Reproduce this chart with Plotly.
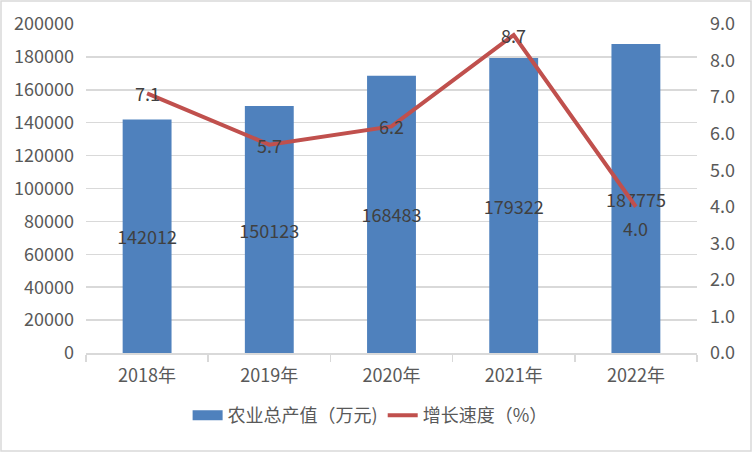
import plotly.graph_objects as go

years = ["2018年", "2019年", "2020年", "2021年", "2022年"]
output_value = [142012, 150123, 168483, 179322, 187775]
growth_rate = [7.1, 5.7, 6.2, 8.7, 4.0]
growth_label_shift = [0, 0, 0, 0, -21]

bar_name = "农业总产值（万元)"
line_name = "增长速度（%）"

FONT = "Noto Sans CJK SC, Liberation Sans, sans-serif"
TICK_COLOR = "#595959"
LABEL_COLOR = "#404040"
GRID = "#d9d9d9"
BAR_COLOR = "#4f81bd"
LINE_COLOR = "#c0504d"
FS = 18

fig = go.Figure()
fig.add_trace(go.Bar(
    x=years, y=output_value, name=bar_name, showlegend=False,
    marker=dict(color=BAR_COLOR, line=dict(width=0)),
    text=[str(v) for v in output_value],
    textposition="inside", insidetextanchor="middle",
    textangle=0, constraintext="none",
    textfont=dict(color=LABEL_COLOR, size=FS, family=FONT),
    yaxis="y", hoverinfo="skip",
))
# legend entry for the bars (wide swatch)
fig.add_trace(go.Scatter(
    x=[None], y=[None], name=bar_name, mode="lines",
    line=dict(color=BAR_COLOR, width=12), yaxis="y",
))
fig.add_trace(go.Scatter(
    x=years, y=growth_rate, name=line_name, mode="lines",
    line=dict(color=LINE_COLOR, width=4),
    yaxis="y2", hoverinfo="skip",
))

for yr, g, s in zip(years, growth_rate, growth_label_shift):
    fig.add_annotation(
        x=yr, y=g, yref="y2", xref="x", text=f"{g:.1f}", showarrow=False,
        yshift=s, font=dict(color=LABEL_COLOR, size=FS, family=FONT),
    )

W, H = 752, 452
L, R, T, B = 86, 55, 24, 99
pw, ph = W - L - R, H - T - B
fig.add_shape(
    type="rect", xref="paper", yref="paper",
    x0=(1 - L) / pw, x1=(W - 1 - L) / pw,
    y0=-(H - 1 - T - ph) / ph, y1=(ph + T - 1) / ph,
    line=dict(color=GRID, width=1.5), fillcolor="rgba(0,0,0,0)", layer="below",
)

fig.update_layout(
    width=W, height=H,
    margin=dict(l=L, r=R, t=T, b=B, autoexpand=False),
    paper_bgcolor="white", plot_bgcolor="white",
    font=dict(family=FONT, size=FS, color=TICK_COLOR),
    bargap=0.6,
    showlegend=True,
    hovermode=False,
    legend=dict(orientation="h", x=0.465, y=-0.19, xanchor="center", yanchor="middle",
                font=dict(size=FS, color=TICK_COLOR),
                bgcolor="rgba(0,0,0,0)", tracegroupgap=0),
    xaxis=dict(
        type="category", showgrid=False, showline=True, linecolor=GRID, linewidth=1.5,
        ticks="outside", tickson="boundaries", ticklen=7, tickcolor=GRID, tickwidth=1.5,
        tickfont=dict(size=FS, color=TICK_COLOR), zeroline=False, automargin=False,
        ticklabelstandoff=6,
    ),
    yaxis=dict(
        range=[0, 200000], dtick=20000, showgrid=True, gridcolor=GRID, gridwidth=1.5,
        zeroline=False, showline=False, ticks="", tickformat="d", automargin=False,
        tickfont=dict(size=FS, color=TICK_COLOR), ticklabelstandoff=11,
    ),
    yaxis2=dict(
        range=[0, 9], dtick=1, overlaying="y", side="right", showgrid=False,
        zeroline=False, showline=False, ticks="", tickformat=".1f", automargin=False,
        tickfont=dict(size=FS, color=TICK_COLOR), ticklabelstandoff=12,
    ),
)

fig.write_html(
    "out.html",
    config={"displayModeBar": False, "staticPlot": True},
    post_script="document.body.style.margin='0';document.body.style.overflow='hidden';",
)
